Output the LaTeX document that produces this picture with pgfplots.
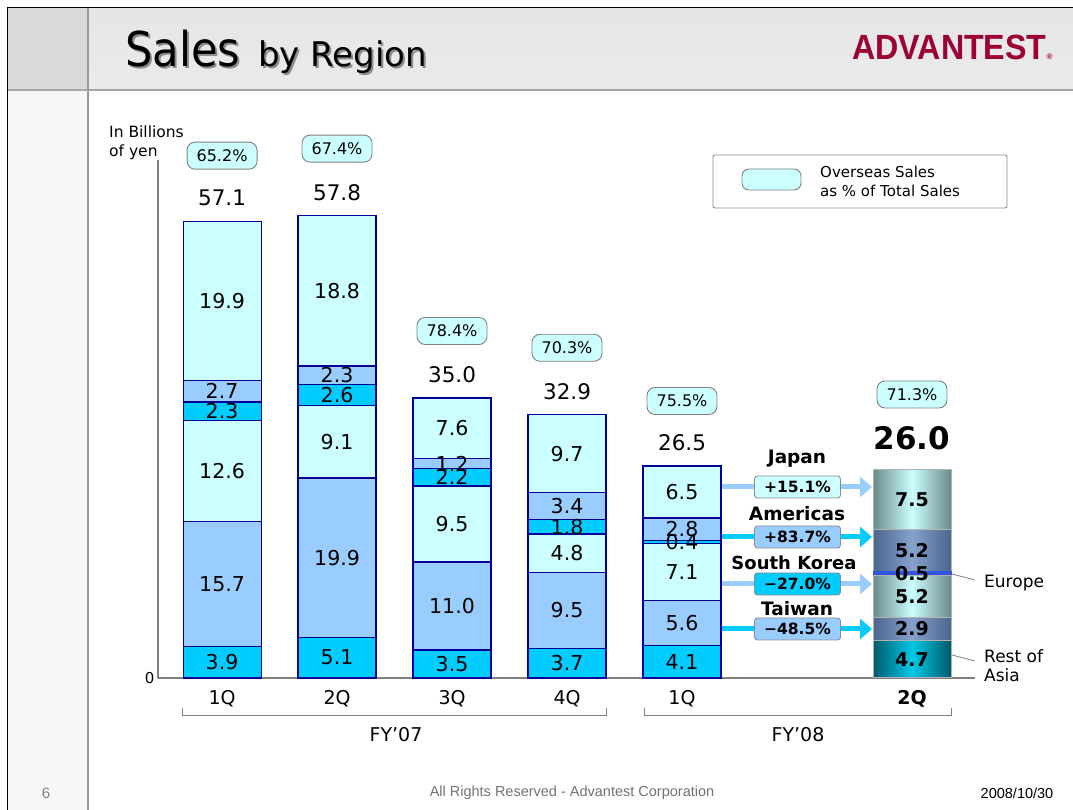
\documentclass[border=0pt]{standalone}
\usepackage{pgfplots}
\pgfplotsset{compat=1.18}
\usepackage{pgfplotstable}
\usepackage{fontspec}
\setmainfont{DejaVu Sans}
\newfontfamily\arialfont{Liberation Sans}
\usetikzlibrary{arrows.meta}
\newcommand{\fs}[1]{\fontsize{#1}{#1}\selectfont}
\definecolor{cLC}{HTML}{CCFFFF}
\definecolor{cLB}{HTML}{99CCFF}
\definecolor{cCY}{HTML}{00CCFF}
\definecolor{cEdge}{HTML}{000099}
\definecolor{logored}{HTML}{9C0038}
\definecolor{gJe}{HTML}{6A8A8A}
\definecolor{gJm}{HTML}{CCFFFF}
\definecolor{gAe}{HTML}{4A668E}
\definecolor{gAm}{HTML}{86A2CC}
\definecolor{gRe}{HTML}{005A6A}
\definecolor{gRm}{HTML}{00C8E8}
\definecolor{gEu}{HTML}{3355DD}

\pgfplotstableread{
x RoA Taiwan Korea Europe Americas Japan
0 3.9 15.7 12.6 2.3 2.7 19.9
1 5.1 19.9 9.1 2.6 2.3 18.8
2 3.5 11.0 9.5 2.2 1.2 7.6
3 3.7 9.5 4.8 1.8 3.4 9.7
4 4.1 5.6 7.1 0.4 2.8 6.5
}\past
\pgfplotstableread{
x RoA Taiwan Korea Europe Americas Japan
6 4.7 2.9 5.2 0.5 5.2 7.5
}\cur

\pgfplotsset{
  /pgf/number format/assume math mode=true,
  frame/.style={at={(158pt,132pt)}, anchor=south west,
    width=817pt, height=518pt, scale only axis,
    xmin=-0.557, xmax=6.548, ymin=0, ymax=64.75,
    ybar stacked, bar width=78pt, clip=false,
    /pgf/number format/assume math mode=true},
  lab/.style={point meta=explicit,
    nodes near coords={\pgfmathprintnumber[fixed,fixed zerofill,precision=1,assume math mode=true]{\pgfplotspointmeta}},
    every node near coord/.append style={anchor=center, text=black, font=\fs{20.5}}},
  labb/.style={lab=#1,
    every node near coord/.append style={font=\bfseries\fs{19}}},
}

\begin{document}
\begin{tikzpicture}[x=1pt,y=1pt]
\useasboundingbox (0,0) rectangle (1073,810);
% background
\fill[white] (0,0) rectangle (1073,810);
\fill[black!3!white] (8,0) rectangle (88,720);
\shade[top color=black!10, bottom color=black!8] (88,720) rectangle (1073,802);
\fill[black!15] (8,720) rectangle (88,802);
\draw[black!40, line width=1.2pt] (88,0) -- (88,802);
\draw[black!35, line width=1.2pt] (8,720) -- (1073,720);
\draw[black, line width=1.5pt] (7.5,0) -- (7.5,802.5) -- (1073,802.5);

% title
\node[anchor=base west, inner sep=0, text=black!45] at (127,741) {\scalebox{0.9}[1]{\fs{48}Sales}};
\node[anchor=base west, inner sep=0] at (125,743) {\scalebox{0.9}[1]{\fs{48}Sales}};
\node[anchor=base west, inner sep=0, text=black!45] at (260,741) {\fs{34}by Region};
\node[anchor=base west, inner sep=0] at (258,743) {\fs{34}by Region};
% logo
\node[anchor=base west, inner sep=0, text=logored] at (852,750)
  {\arialfont\bfseries\scalebox{0.92}[1]{\fs{35}ADVANTEST}\raisebox{0pt}{\fs{8}\textregistered}};

% footer
\node[text=black!50, font=\arialfont\fs{15}] at (46,17) {6};
\node[text=black!55, font=\arialfont\fs{14.5}] at (572,17) {All Rights Reserved - Advantest Corporation};
\node[text=black, font=\arialfont\fs{14.5}] at (1017,17) {2008/10/30};

% unit label
\node[anchor=west, inner sep=0, font=\fs{15.5}] at (109,678) {In Billions};
\node[anchor=west, inner sep=0, font=\fs{15.5}] at (109,658) {of yen};

% legend
\draw[black!45, fill=white, rounded corners=2pt, line width=0.9pt] (713,602) rectangle (1007,655);
\draw[black!50, fill=cLC, rounded corners=7pt, line width=0.9pt] (742,620) rectangle (801,641);
\node[anchor=west, inner sep=0, font=\fs{15}] at (820,638) {Overseas Sales};
\node[anchor=west, inner sep=0, font=\fs{15}] at (820,619) {as \% of Total Sales};

% main axis
\begin{axis}[frame,
  axis x line=bottom, axis y line=left,
  axis line style={-, draw=black!50},
  x axis line style={line width=2.2pt},
  y axis line style={line width=1.3pt},
  xtick={0,1,2,3,4,6},
  xticklabels={1Q,2Q,3Q,4Q,1Q,\textbf{2Q}},
  ytick={0},
  major tick length=0pt,
  xticklabel style={anchor=base, yshift=-27pt, font=\fs{19}},
  yticklabel style={font=\fs{15}},
  every axis plot/.append style={draw=cEdge, line width=1.1pt},
]
\addplot[fill=cCY, lab=RoA] table[x=x, y=RoA, meta=RoA] {\past};
\addplot[fill=cLB, lab=Taiwan] table[x=x, y=Taiwan, meta=Taiwan] {\past};
\addplot[fill=cLC, lab=Korea] table[x=x, y=Korea, meta=Korea] {\past};
\addplot[fill=cCY, lab=Europe] table[x=x, y=Europe, meta=Europe] {\past};
\addplot[fill=cLB, lab=Americas] table[x=x, y=Americas, meta=Americas] {\past};
\addplot[fill=cLC, lab=Japan] table[x=x, y=Japan, meta=Japan] {\past};

% totals
\node[font=\fs{21.5}, yshift=23pt] at (axis cs:0,57.1) {57.1};
\node[font=\fs{21.5}, yshift=23pt] at (axis cs:1,57.8) {57.8};
\node[font=\fs{21.5}, yshift=23pt] at (axis cs:2,35.0) {35.0};
\node[font=\fs{21.5}, yshift=23pt] at (axis cs:3,32.9) {32.9};
\node[font=\fs{21.5}, yshift=23pt] at (axis cs:4,26.5) {26.5};
\node[font=\bfseries\fs{31}, yshift=31.5pt] at (axis cs:6,26.0) {26.0};
% overseas share bubbles
\tikzset{pct/.style={draw=black!50, fill=cLC, rounded corners=8pt, line width=0.9pt,
  minimum width=70pt, minimum height=27pt, inner sep=0, font=\fs{16}}}
\node[pct, yshift=65.5pt] at (axis cs:0,57.1) {65.2\%};
\node[pct, yshift=67pt] at (axis cs:1,57.8) {67.4\%};
\node[pct, yshift=67pt] at (axis cs:2,35.0) {78.4\%};
\node[pct, yshift=67pt] at (axis cs:3,32.9) {70.3\%};
\node[pct, yshift=65pt] at (axis cs:4,26.5) {75.5\%};
\node[pct, yshift=75.5pt] at (axis cs:6,26.0) {71.3\%};
\end{axis}

% FY08 2Q highlighted bar
\begin{axis}[frame, hide axis,
  every axis plot/.append style={draw=black!30, line width=1pt},
]
\addplot[left color=gRe, right color=gRe, middle color=gRm, labb=RoA] table[x=x, y=RoA, meta=RoA] {\cur};
\addplot[left color=gAe, right color=gAe, middle color=gAm, labb=Taiwan] table[x=x, y=Taiwan, meta=Taiwan] {\cur};
\addplot[left color=gJe, right color=gJe, middle color=gJm, labb=Korea] table[x=x, y=Korea, meta=Korea] {\cur};
\addplot[fill=gEu, draw=gEu, labb=Europe] table[x=x, y=Europe, meta=Europe] {\cur};
\addplot[left color=gAe, right color=gAe, middle color=gAm, labb=Americas] table[x=x, y=Americas, meta=Americas] {\cur};
\addplot[left color=gJe, right color=gJe, middle color=gJm, labb=Japan] table[x=x, y=Japan, meta=Japan] {\cur};
\end{axis}

% change annotations
\tikzset{chg/.style={draw=black!45, rounded corners=3pt, line width=0.9pt,
  minimum width=86pt, minimum height=22pt, inner sep=0, font=\bfseries\fs{15.5}},
  arr/.style={line width=5pt, -{Triangle[length=12pt,width=20pt]}}}
\draw[arr, cLB] (722,323) -- (872,323);
\draw[arr, cCY] (722,273) -- (872,273);
\draw[arr, cLB] (722,226) -- (872,226);
\draw[arr, cCY] (722,181) -- (872,181);
\node[font=\bfseries\fs{18.5}] at (797,351) {Japan};
\node[chg, fill=cLC] at (797.5,323) {+15.1\%};
\node[font=\bfseries\fs{18.5}] at (797,296) {Americas};
\node[chg, fill=cLB] at (797.5,273) {+83.7\%};
\node[font=\bfseries\fs{18}] at (794,247) {South Korea};
\node[chg, fill=cCY] at (797.5,226) {−27.0\%};
\node[font=\bfseries\fs{18.5}] at (797,201) {Taiwan};
\node[chg, fill=cLB] at (797.5,181) {−48.5\%};

% right side region labels
\draw[black!50, line width=0.8pt] (952,236) -- (975,230);
\node[anchor=west, inner sep=0, font=\fs{17}] at (984,227) {Europe};
\draw[black!50, line width=0.8pt] (952,155) -- (975,149);
\node[anchor=west, inner sep=0, font=\fs{17}] at (984,154) {Rest of};
\node[anchor=west, inner sep=0, font=\fs{17}] at (984,135) {Asia};

% fiscal year brackets
\draw[black!50, line width=0.9pt] (182,102) -- (182,95) -- (606,95) -- (606,102);
\draw[black!50, line width=0.9pt] (644,102) -- (644,95) -- (951,95) -- (951,102);
\node[font=\fs{19}] at (396,75) {FY’07};
\node[font=\fs{19}] at (798,75) {FY’08};
\end{tikzpicture}
\end{document}
